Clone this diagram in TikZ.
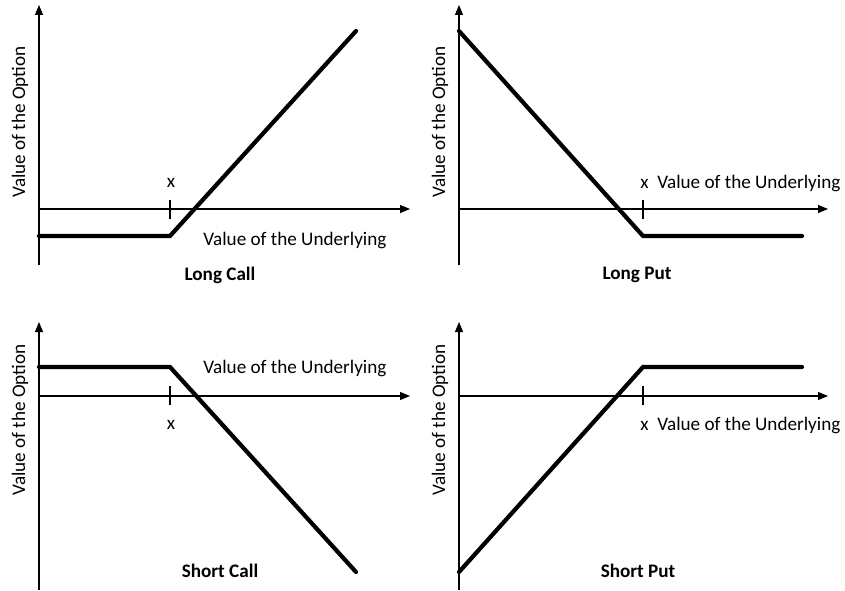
\documentclass[tikz,border=0pt]{standalone}
\usepackage{fontspec}
\setmainfont{Carlito}
\usetikzlibrary{arrows.meta}

\tikzset{
  axis/.style={line width=0.6pt, -{Triangle[length=0.2cm,width=0.16cm]}},
  tick/.style={line width=0.6pt},
  payoff/.style={line width=2.4pt, line cap=round, line join=miter},
  lbl/.style={inner sep=0pt, font=\fontsize{10.9}{13}\selectfont},
  ttl/.style={inner sep=0pt, font=\fontsize{10.9}{13}\selectfont\bfseries}
}

\begin{document}
\begin{tikzpicture}

\useasboundingbox (0,0) rectangle (16.9,11.8);

% Draw Long Call

\coordinate (lcO) at (0.78,7.62);
\coordinate (lcB) at (0.78,6.5);
\coordinate (lcT) at (0.78,11.7);
\coordinate (lcR) at (8.2,7.62);
\coordinate (lcK1) at (3.4,7.8);
\coordinate (lcK2) at (3.4,7.42);
\coordinate (lcP0) at (0.78,7.08);
\coordinate (lcP1) at (3.4,7.08);
\coordinate (lcP2) at (7.12,11.18);

\draw[axis] (lcB) -- (lcT);
\draw[axis] (lcO) -- (lcR);
\draw[tick] (lcK1) -- (lcK2);
\draw[payoff] (lcP0) -- (lcP1) -- (lcP2);

\node[lbl] (lcX) at (3.42,8.14) {x};
\node[lbl, anchor=west] (lcU) at (4.06,7.0) {Value of the Underlying};
\node[lbl, rotate=90] (lcV) at (0.4,9.36) {Value of the Option};
\node[ttl] (lcName) at (4.4,6.3) {Long Call};

% Draw Long Put

\coordinate (lpO) at (9.18,7.62);
\coordinate (lpB) at (9.18,6.5);
\coordinate (lpT) at (9.18,11.7);
\coordinate (lpR) at (16.56,7.62);
\coordinate (lpK1) at (12.86,7.8);
\coordinate (lpK2) at (12.86,7.42);
\coordinate (lpP0) at (9.18,11.18);
\coordinate (lpP1) at (12.86,7.08);
\coordinate (lpP2) at (16.04,7.08);

\draw[axis] (lpB) -- (lpT);
\draw[axis] (lpO) -- (lpR);
\draw[tick] (lpK1) -- (lpK2);
\draw[payoff] (lpP0) -- (lpP1) -- (lpP2);

\node[lbl, anchor=west] (lpU) at (12.8,8.14) {x\ \ Value of the Underlying};
\node[lbl, rotate=90] (lpV) at (8.8,9.36) {Value of the Option};
\node[ttl] (lpName) at (12.74,6.3) {Long Put};

% Draw Short Call

\coordinate (scO) at (0.78,3.88);
\coordinate (scB) at (0.78,0);
\coordinate (scT) at (0.78,5.36);
\coordinate (scR) at (8.2,3.88);
\coordinate (scK1) at (3.4,4.08);
\coordinate (scK2) at (3.4,3.7);
\coordinate (scP0) at (0.78,4.46);
\coordinate (scP1) at (3.4,4.46);
\coordinate (scP2) at (7.12,0.36);

\draw[axis] (scB) -- (scT);
\draw[axis] (scO) -- (scR);
\draw[tick] (scK1) -- (scK2);
\draw[payoff] (scP0) -- (scP1) -- (scP2);

\node[lbl] (scX) at (3.42,3.3) {x};
\node[lbl, anchor=west] (scU) at (4.06,4.44) {Value of the Underlying};
\node[lbl, rotate=90] (scV) at (0.4,3.4) {Value of the Option};
\node[ttl] (scName) at (4.4,0.38) {Short Call};

% Draw Short Put

\coordinate (spO) at (9.18,3.88);
\coordinate (spB) at (9.18,0);
\coordinate (spT) at (9.18,5.36);
\coordinate (spR) at (16.56,3.88);
\coordinate (spK1) at (12.86,4.08);
\coordinate (spK2) at (12.86,3.7);
\coordinate (spP0) at (9.18,0.36);
\coordinate (spP1) at (12.86,4.46);
\coordinate (spP2) at (16.04,4.46);

\draw[axis] (spB) -- (spT);
\draw[axis] (spO) -- (spR);
\draw[tick] (spK1) -- (spK2);
\draw[payoff] (spP0) -- (spP1) -- (spP2);

\node[lbl, anchor=west] (spU) at (12.8,3.3) {x\ \ Value of the Underlying};
\node[lbl, rotate=90] (spV) at (8.8,3.4) {Value of the Option};
\node[ttl] (spName) at (12.76,0.38) {Short Put};

\end{tikzpicture}
\end{document}
